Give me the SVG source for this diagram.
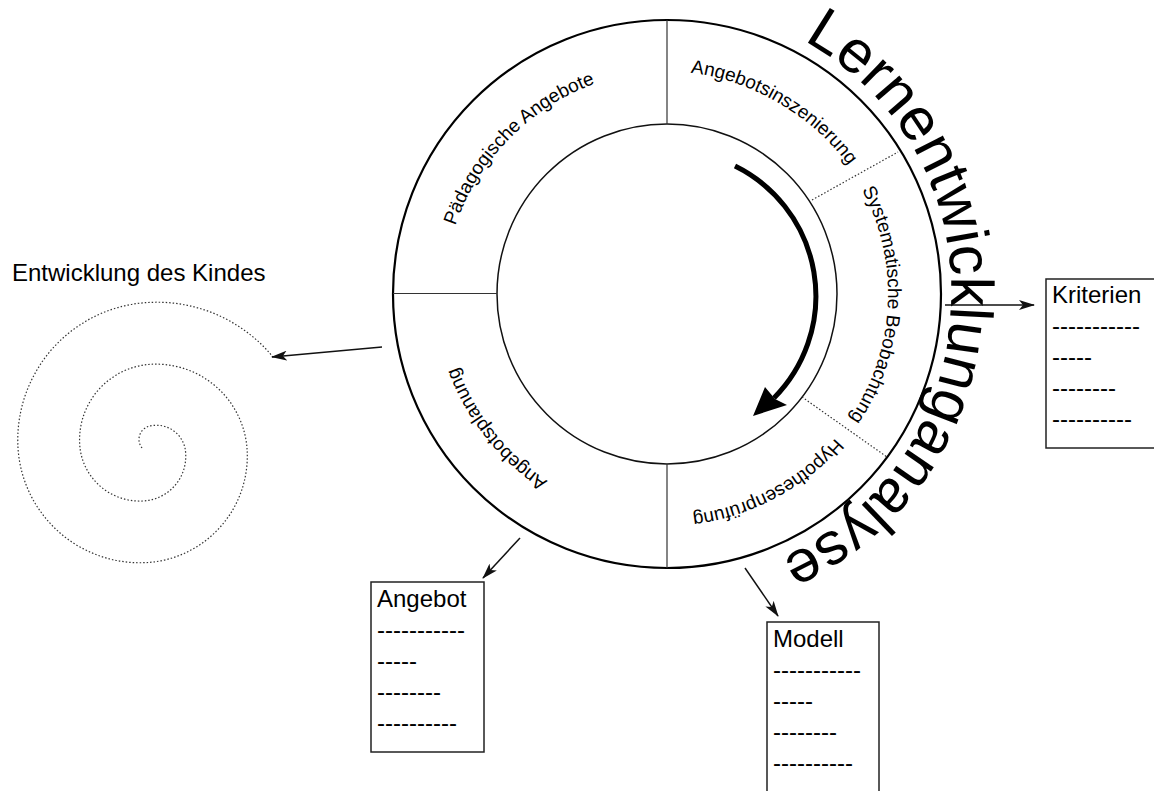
<svg xmlns="http://www.w3.org/2000/svg" width="1154" height="791" viewBox="0 0 1154 791">
<style>
text{font-family:"Liberation Sans",Arial,sans-serif;fill:#000}
.seg{font-size:19px;text-rendering:geometricPrecision}
.big{font-size:60px;text-rendering:geometricPrecision}
.box{font-size:24px}
.sep{stroke:#333;stroke-width:1.2;fill:none}
.dot{stroke:#333;stroke-width:1.2;stroke-dasharray:1.5 2;fill:none}
.conn{stroke:#111;stroke-width:1.5;fill:none;marker-end:url(#ah)}
.rect{fill:#fff;stroke:#222;stroke-width:1.5}
</style>
<defs>
<marker id="ah" markerUnits="userSpaceOnUse" viewBox="0 0 16 10" refX="15" refY="5" markerWidth="16" markerHeight="10" orient="auto">
<path d="M0,0 L16,5 L0,10 L4,5 Z" fill="#111"/>
</marker>
<path id="p1" d="M824.6,448.9 A221,221 0 1 1 509.4,139.1 A221,221 0 1 1 824.6,448.9"/>
<path id="p2" d="M555.2,484.6 A221,221 0 1 1 778.8,103.4 A221,221 0 1 1 555.2,484.6"/>
<path id="p3" d="M446.3,282.0 A221,221 0 1 1 887.7,306.0 A221,221 0 1 1 446.3,282.0"/>
<path id="p4" d="M563.2,98.9 A221,221 0 1 1 770.8,489.1 A221,221 0 1 1 563.2,98.9"/>
<path id="p5" d="M840.4,157.0 A221,221 0 1 1 493.6,431.0 A221,221 0 1 1 840.4,157.0"/>
<path id="pb" d="M383.3,281.6 A284,284 0 1 1 950.7,306.4 A284,284 0 1 1 383.3,281.6"/>
</defs>
<rect width="1154" height="791" fill="#fff"/>

<g id="ring">
<circle cx="667" cy="294" r="274" fill="#fff" stroke="#000" stroke-width="2.2"/>
<circle cx="667" cy="294" r="170" fill="#fff" stroke="#111" stroke-width="1.5"/>
<line class="sep" x1="667" y1="20" x2="667" y2="124"/>
<line class="sep" x1="667" y1="464" x2="667" y2="568"/>
<line class="sep" x1="393" y1="293.5" x2="497" y2="293.5"/>
<line class="dot" x1="812" y1="200" x2="898" y2="152"/>
<line class="dot" x1="802" y1="397" x2="887" y2="457"/>
</g>

<g id="seg-paedagogische-angebote"><text class="seg"><textPath href="#p1" startOffset="50%" text-anchor="middle">Pädagogische Angebote</textPath></text></g>
<g id="seg-angebotsinszenierung"><text class="seg"><textPath href="#p2" startOffset="50%" text-anchor="middle">Angebotsinszenierung</textPath></text></g>
<g id="seg-systematische-beobachtung"><text class="seg"><textPath href="#p3" startOffset="50%" text-anchor="middle">Systematische Beobachtung</textPath></text></g>
<g id="seg-hypothesenpruefung"><text class="seg"><textPath href="#p4" startOffset="50%" text-anchor="middle">Hypothesenprüfung</textPath></text></g>
<g id="seg-angebotsplanung"><text class="seg"><textPath href="#p5" startOffset="50%" text-anchor="middle">Angebotsplanung</textPath></text></g>

<g id="title-lernentwicklunganalyse"><text class="big"><textPath href="#pb" startOffset="50%" text-anchor="middle">Lernentwicklunganalyse</textPath></text></g>

<g id="cycle-arrow">
<path d="M735,166 A145,145 0 0 1 774,398" fill="none" stroke="#000" stroke-width="5"/>
<path d="M753,416 L765,387 L775,399 L787,405 Z" fill="#000"/>
</g>

<g id="entwicklung">
<text class="box" x="12" y="281">Entwicklung des Kindes</text>
<path class="dot" d="M142,448 A13.75,13.75 0 0 1 148,426.5 A29.25,29.25 0 0 1 185,448 A44.75,44.75 0 0 1 148,500.5 A60.25,60.25 0 0 1 80,448 A75.75,75.75 0 0 1 148,364.5 A91.25,91.25 0 0 1 247,448 A106.75,106.75 0 0 1 148,562.5 A122.25,122.25 0 0 1 18,448 A137.75,137.75 0 0 1 148,302.5 A150,150 0 0 1 273,357"/>
</g>

<g id="box-angebot">
<rect class="rect" x="371" y="582" width="113" height="170"/>
<text class="box" x="377" y="607">Angebot</text>
<text class="box" x="377" y="638">-----------</text>
<text class="box" x="377" y="669">-----</text>
<text class="box" x="377" y="700">--------</text>
<text class="box" x="377" y="731">----------</text>
</g>

<g id="box-modell">
<rect class="rect" x="767" y="622" width="112" height="172"/>
<text class="box" x="773" y="647">Modell</text>
<text class="box" x="773" y="678">-----------</text>
<text class="box" x="773" y="709">-----</text>
<text class="box" x="773" y="740">--------</text>
<text class="box" x="773" y="771">----------</text>
</g>

<g id="box-kriterien">
<rect class="rect" x="1046" y="279" width="112" height="169"/>
<text class="box" x="1052" y="303">Kriterien</text>
<text class="box" x="1052" y="334">-----------</text>
<text class="box" x="1052" y="365">-----</text>
<text class="box" x="1052" y="396">--------</text>
<text class="box" x="1052" y="427">----------</text>
</g>

<g id="connectors">
<line class="conn" x1="382" y1="347" x2="272" y2="357"/>
<line class="conn" x1="520" y1="538" x2="483" y2="578"/>
<line class="conn" x1="745" y1="568" x2="778" y2="616"/>
<line class="conn" x1="945" y1="305" x2="1034" y2="305"/>
</g>
</svg>
